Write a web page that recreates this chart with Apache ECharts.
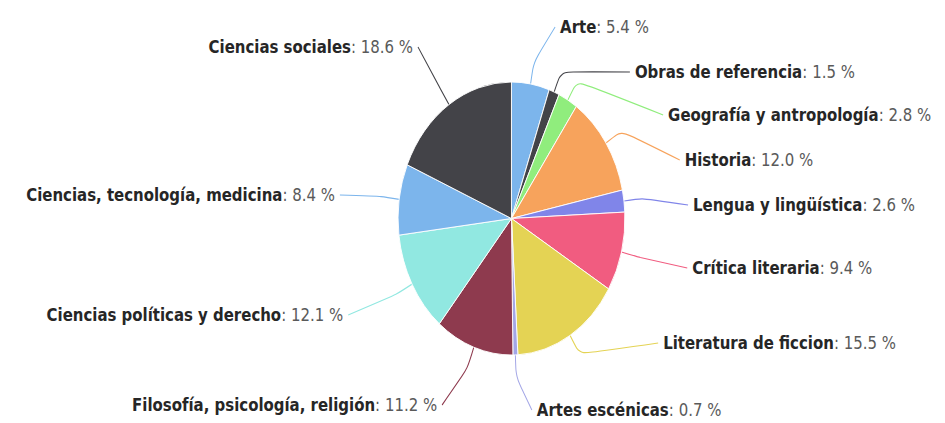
<!DOCTYPE html>
<html>
<head>
<meta charset="utf-8">
<script src="https://cdn.jsdelivr.net/npm/echarts@6/dist/echarts.min.js"></script>
<style>
  html, body { margin: 0; padding: 0; background: #fff; overflow: hidden; }
  #wrap { width: 945px; height: 423px; overflow: hidden; }
  #chart { width: 1137px; height: 423px; transform: scaleX(0.831); transform-origin: 0 0; }
</style>
</head>
<body>
<div id="wrap"><div id="chart"></div></div>
<script>
// ---- data ----
const categories = [
  'Arte',
  'Obras de referencia',
  'Geografía y antropología',
  'Historia',
  'Lengua y lingüística',
  'Crítica literaria',
  'Literatura de ficcion',
  'Artes escénicas',
  'Filosofía, psicología, religión',
  'Ciencias políticas y derecho',
  'Ciencias, tecnología, medicina',
  'Ciencias sociales'
];
const values = [5.4, 1.5, 2.8, 12.0, 2.6, 9.4, 15.5, 0.7, 11.2, 12.1, 8.4, 18.6];

// ---- styles ----
const palette = ['#7cb5ec', '#434348', '#90ed7d', '#f7a35c', '#8085e9', '#f15c80',
                 '#e4d354', '#a3a6e6', '#8e3a4e', '#91e8e1', '#7cb5ec', '#434348'];

// label anchors (text layout, in chart pixels before horizontal squash): [x, y, side]
const labelAnchors = [
  [674, 27, 'left'], [764, 72, 'left'], [804, 115, 'left'], [824, 160, 'left'],
  [834, 205, 'left'], [833, 268, 'left'], [798, 343, 'left'], [646, 410, 'left'],
  [526, 405, 'right'], [413, 315, 'right'], [403, 195, 'right'], [497, 47, 'right']
];

const chart = echarts.init(document.getElementById('chart'), null, { renderer: 'svg' });

chart.setOption({
  animation: false,
  series: [{
    type: 'pie',
    center: [615.5, 218.5],
    radius: 136.5,
    startAngle: 90,
    clockwise: true,
    avoidLabelOverlap: false,
    data: categories.map((c, i) => ({ name: c, value: values[i], itemStyle: { color: palette[i] } })),
    itemStyle: { borderColor: '#ffffff', borderWidth: 1 },
    label: {
      show: true,
      position: 'outside',
      fontFamily: 'DejaVu Sans',
      fontSize: 18,
      formatter: p => '{n|' + p.name + '}{v|: ' + p.value.toFixed(1) + ' %}',
      rich: {
        n: { fontFamily: 'DejaVu Sans', fontSize: 18, fontWeight: 'bold', color: '#262626' },
        v: { fontFamily: 'DejaVu Sans', fontSize: 18, fontWeight: 'normal', color: '#5a5a5a' }
      }
    },
    labelLine: { show: true, length: 20, length2: 20, smooth: 0.25, lineStyle: { width: 1.2 } },
    labelLayout: function (params) {
      const a = labelAnchors[params.dataIndex];
      const pts = params.labelLinePoints;
      let out = null;
      if (pts && pts.length >= 2) {
        const p0 = pts[0], p1 = pts[1];
        const dx = p1[0] - p0[0], dy = p1[1] - p0[1];
        const len = Math.sqrt(dx * dx + dy * dy) || 1;
        const br = [p0[0] + dx / len * 22, p0[1] + dy / len * 22];
        const end = [a[0] + (a[2] === 'left' ? -6 : 6), a[1]];
        out = [p0, br, end];
      }
      const res = { x: a[0], y: a[1], align: a[2], verticalAlign: 'middle' };
      if (out) res.labelLinePoints = out;
      return res;
    }
  }]
});
</script>
</body>
</html>
